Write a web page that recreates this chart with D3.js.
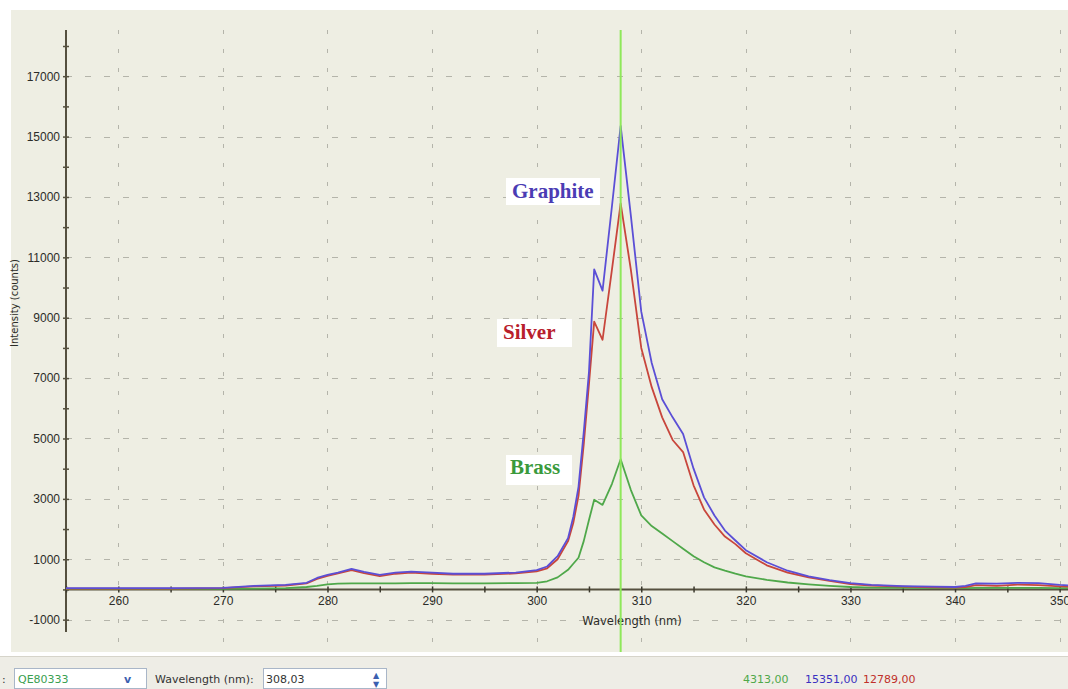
<!DOCTYPE html>
<html>
<head>
<meta charset="utf-8">
<script src="https://cdn.jsdelivr.net/npm/d3@7"></script>
<style>
  body { margin: 0; background: #fff; }
  svg { display: block; font-family: "DejaVu Sans", sans-serif; }
</style>
</head>
<body>
<svg id="chart" width="1068" height="689"></svg>
<script>
const width = 1068;
const height = 689;

// wavelength grid (nm) shared by the three spectra
const wavelengths = [255, 260, 265, 270, 273, 276, 278, 279, 280, 281, 282.3, 283.5, 285, 286.5, 288, 290, 292, 295, 298, 300,
  301, 302, 303, 303.5, 304, 304.5, 305, 305.5, 306.3, 307.2, 308.03, 309, 310, 311, 312, 313, 314, 315, 316, 317,
  318, 319, 320, 322, 324, 326, 328, 330, 332, 335, 338, 340, 341, 342, 344, 346, 348, 350, 351];

const graphite = [40, 40, 40, 50, 120, 150, 220, 380, 480, 560, 680, 580, 480, 560, 590, 560, 520, 520, 560, 640,
  760, 1100, 1700, 2400, 3400, 5200, 7200, 10600, 9900, 12700, 15351, 12400, 9200, 7500, 6300, 5700, 5150, 4000, 3050, 2450,
  1950, 1620, 1300, 900, 620, 430, 310, 210, 150, 110, 90, 80, 120, 200, 190, 220, 210, 150, 130];

const silver = [30, 30, 30, 40, 100, 130, 200, 350, 450, 530, 640, 540, 440, 520, 560, 520, 490, 490, 530, 600,
  700, 1000, 1600, 2200, 3100, 4800, 6800, 8870, 8270, 10600, 12789, 10600, 8000, 6700, 5700, 4950, 4550, 3450, 2650, 2150,
  1750, 1500, 1200, 800, 560, 400, 280, 180, 130, 90, 70, 60, 80, 140, 120, 160, 140, 100, 90];

const brass = [20, 20, 20, 20, 30, 40, 80, 120, 170, 190, 200, 200, 200, 200, 210, 210, 200, 200, 210, 220,
  270, 400, 650, 850, 1050, 1600, 2300, 2970, 2800, 3500, 4313, 3300, 2450, 2100, 1850, 1600, 1350, 1100, 900, 730,
  620, 520, 430, 320, 230, 170, 120, 80, 60, 50, 40, 40, 40, 50, 50, 50, 50, 40, 40];

const cursorNm = 308.03;
const cursorReadings = ["4313,00", "15351,00", "12789,00"];

const colors = { Graphite: "#5b4fd6", Silver: "#c8463c", Brass: "#4fa84a" };
const labelColors = { Graphite: "#4b3cb4", Silver: "#b8202c", Brass: "#3a9a3c" };

const svg = d3.select("#chart");

// panel background
svg.append("rect").attr("x", 11).attr("y", 10).attr("width", width - 11).attr("height", 642).attr("fill", "#eeeee3");
// toolbar
svg.append("rect").attr("x", 0).attr("y", 656).attr("width", width).attr("height", 33).attr("fill", "#eeede6");
svg.append("line").attr("x1", 0).attr("x2", width).attr("y1", 656.5).attr("y2", 656.5).attr("stroke", "#d6d4ca");

const x = d3.scaleLinear().domain([255, 350.8]).range([66, 1068]);
const y = d3.scaleLinear().domain([-1410, 18530]).range([632, 30]);

// grid
const yGrid = d3.range(-1000, 18000, 2000);
const xGrid = d3.range(260, 351, 10);
svg.append("g").selectAll("line").data(yGrid).join("line")
  .attr("x1", 66).attr("x2", width)
  .attr("y1", d => Math.round(y(d)) + 0.5).attr("y2", d => Math.round(y(d)) + 0.5)
  .attr("stroke", "#b4b4aa").attr("stroke-dasharray", "6,13");
svg.append("g").selectAll("line").data(xGrid).join("line")
  .attr("x1", d => Math.round(x(d)) + 0.5).attr("x2", d => Math.round(x(d)) + 0.5)
  .attr("y1", 30).attr("y2", 645)
  .attr("stroke", "#b4b4aa").attr("stroke-dasharray", "4,15");

// axes
const yAxis = d3.axisLeft(y)
  .tickValues(d3.range(-1000, 18001, 1000))
  .tickSize(3)
  .tickPadding(3)
  .tickFormat(d => (Math.abs(d / 1000) % 2 === 1) ? d : "");
const gy = svg.append("g").attr("transform", "translate(66,0)").call(yAxis);
gy.select(".domain").attr("d", `M0,30V632`).attr("stroke", "#55503f").attr("stroke-width", 2);
gy.selectAll(".tick line").attr("x1", -3).attr("x2", 3).attr("stroke", "#55503f").attr("stroke-width", 1.5);
gy.selectAll(".tick text").attr("font-size", 12).attr("fill", "#2c2c28");

const xAxis = d3.axisBottom(x)
  .tickValues(d3.range(255, 351, 5))
  .tickSize(3)
  .tickPadding(4)
  .tickFormat(d => d % 10 === 0 ? d : "");
const gx = svg.append("g").attr("transform", `translate(0,${y(0)})`).call(xAxis);
gx.select(".domain").attr("d", `M66,0H${width}`).attr("stroke", "#55503f").attr("stroke-width", 2);
gx.selectAll(".tick line").attr("y1", -3).attr("y2", 3).attr("stroke", "#3a382c").attr("stroke-width", 1.5);
gx.selectAll(".tick text").attr("font-size", 12).attr("fill", "#2c2c28");

// axis titles
svg.append("text").attr("transform", "translate(18,303) rotate(-90)")
  .attr("text-anchor", "middle").attr("font-size", 10).attr("fill", "#2c2c28").text("Intensity (counts)");
svg.append("text").attr("x", 632).attr("y", 625)
  .attr("text-anchor", "middle").attr("font-size", 11.5).attr("fill", "#2c2c28").text("Wavelength (nm)");

// spectra
const line = d3.line().x(d => x(d[0])).y(d => y(d[1]));
const spectra = { Graphite: graphite, Silver: silver, Brass: brass };
["Brass", "Silver", "Graphite"].forEach(name => {
  const pts = wavelengths.map((w, i) => [w, spectra[name][i]]);
  svg.append("path").datum(pts)
    .attr("d", line)
    .attr("fill", "none")
    .attr("stroke", colors[name])
    .attr("stroke-width", 1.8)
    .attr("stroke-linejoin", "round");
});

// cursor
svg.append("line")
  .attr("x1", x(cursorNm)).attr("x2", x(cursorNm))
  .attr("y1", 30).attr("y2", 652)
  .attr("stroke", "#8fe85a").attr("stroke-width", 2);

// labels with white boxes
const labels = [
  { name: "Graphite", x: 512, y: 198, box: [506, 178, 94, 27] },
  { name: "Silver", x: 503, y: 339, box: [497, 319, 75, 28] },
  { name: "Brass", x: 510, y: 474, box: [506, 455, 66, 30] }
];
labels.forEach(l => {
  svg.append("rect").attr("x", l.box[0]).attr("y", l.box[1]).attr("width", l.box[2]).attr("height", l.box[3])
    .attr("fill", "#ffffff");
  svg.append("text").attr("x", l.x).attr("y", l.y)
    .attr("font-family", "'Liberation Serif', 'DejaVu Serif', serif")
    .attr("font-weight", "bold").attr("font-size", 21)
    .attr("fill", labelColors[l.name]).text(l.name);
});

// toolbar widgets
const tb = svg.append("g").attr("font-size", 11);
tb.append("text").attr("x", 2).attr("y", 683).attr("fill", "#333").text(":");
tb.append("rect").attr("x", 14.5).attr("y", 668.5).attr("width", 132).attr("height", 20).attr("fill", "#fff").attr("stroke", "#a9b6c8");
tb.append("text").attr("x", 18).attr("y", 683).attr("fill", "#3aa050").text("QE80333");
tb.append("text").attr("x", 124).attr("y", 683).attr("fill", "#3b5fb0").attr("font-weight", "bold").text("v");
tb.append("text").attr("x", 155).attr("y", 683).attr("fill", "#333").text("Wavelength (nm):");
tb.append("rect").attr("x", 263.5).attr("y", 668.5).attr("width", 123).attr("height", 20).attr("fill", "#fff").attr("stroke", "#a9b6c8");
tb.append("text").attr("x", 266).attr("y", 683).attr("fill", "#333").text("308,03");
tb.append("text").attr("x", 373).attr("y", 678).attr("fill", "#3b5fb0").attr("font-size", 8).text("▲");
tb.append("text").attr("x", 373).attr("y", 687).attr("fill", "#3b5fb0").attr("font-size", 8).text("▼");

const readX = [743, 805, 863];
const readColors = [colors.Brass, "#3a30c0", "#c0302a"];
tb.selectAll("text.reading").data(cursorReadings).join("text")
  .attr("class", "reading")
  .attr("x", (d, i) => readX[i]).attr("y", 683)
  .attr("fill", (d, i) => readColors[i]).text(d => d);
</script>
</body>
</html>
